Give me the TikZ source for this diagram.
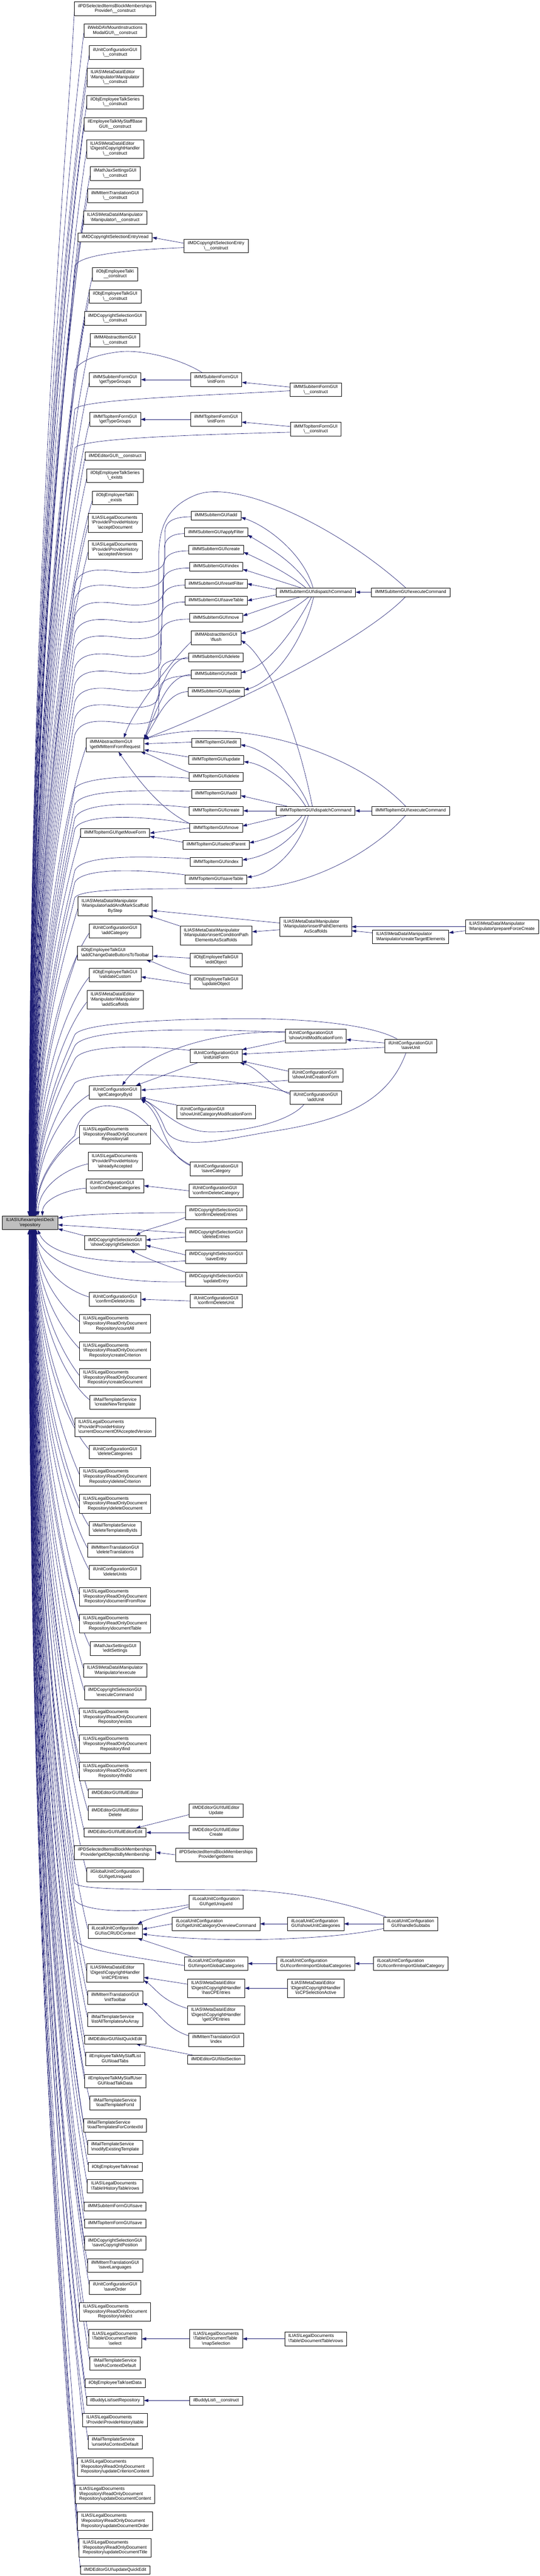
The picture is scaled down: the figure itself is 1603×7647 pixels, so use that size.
\documentclass[tikz,border=0pt]{standalone}
\usepackage{fontspec}
\newfontfamily\doxfont{Liberation Sans}
\usetikzlibrary{arrows.meta,calc}
\definecolor{edgec}{HTML}{191970}
\definecolor{mainfill}{HTML}{BFBFBF}
\pgfdeclarelayer{bg}\pgfsetlayers{bg,main}
\newcommand\bksl{\textbackslash}
\newcommand\La[1]{\begin{tabular}{@{}c@{}}#1\end{tabular}}
\newcommand\Lb[2]{\begin{tabular}{@{}l@{}}#1\\\multicolumn{1}{@{}c@{}}{#2}\end{tabular}}
\newcommand\Lc[3]{\begin{tabular}{@{}l@{}}#1\\#2\\\multicolumn{1}{@{}c@{}}{#3}\end{tabular}}
\newcommand\RODR[1]{\Lc{ILIAS\bksl LegalDocuments}{\bksl Repository\bksl ReadOnlyDocument}{Repository\bksl #1}}
\newcommand\LDPH[1]{\Lc{ILIAS\bksl LegalDocuments}{\bksl Provide\bksl ProvideHistory}{\bksl #1}}
\newcommand\CPH[1]{\Lc{ILIAS\bksl MetaData\bksl Editor}{\bksl Digest\bksl CopyrightHandler}{\bksl #1}}
\newcommand\UCG[1]{\Lb{ilUnitConfigurationGUI}{\bksl #1}}
\newcommand\LUC[1]{\Lb{ilLocalUnitConfiguration}{GUI\bksl #1}}
\newcommand\MTS[1]{\Lb{ilMailTemplateService}{\bksl #1}}
\newcommand\MCS[1]{\Lb{ilMDCopyrightSelectionGUI}{\bksl #1}}
\tikzset{
 nd/.style={draw=black,line width=1pt,fill=white,rectangle,inner xsep=11pt,inner ysep=5.6pt,
   font=\doxfont\fontsize{13.2}{14.7}\selectfont},
 cedge/.style={draw=edgec,line width=1pt,-{Triangle[length=13pt,width=9pt]}}
}
% edge from column-2 node down to the top of the repository node
\newcommand\EdgeT[3]{%
 \pgfmathsetmacro\qqD{3609-#2}\pgfmathsetmacro\qqA{#2+0.12*\qqD}\pgfmathsetmacro\qqB{#2+0.45*\qqD}%
 \draw[cedge] ([yshift=-7pt]#1.west) .. controls (200,\qqA) and (#3,\qqB) .. (#3,0 |- rep.north);}
\newcommand\EdgeB[3]{%
 \pgfmathsetmacro\qqD{#2-3650}\pgfmathsetmacro\qqA{#2-0.12*\qqD}\pgfmathsetmacro\qqB{#2-0.45*\qqD}%
 \draw[cedge] ([yshift=7pt]#1.west) .. controls (200,\qqA) and (#3,\qqB) .. (#3,0 |- rep.south);}
\newcommand\ViaT[3]{%
 \pgfmathsetmacro\qqD{3609-#2}\pgfmathsetmacro\qqA{#2+0.12*\qqD}\pgfmathsetmacro\qqB{#2+0.45*\qqD}%
 \draw[cedge] #1 .. controls (195,\qqA) and (#3,\qqB) .. (#3,0 |- rep.north);}
\newcommand\ViaB[3]{%
 \pgfmathsetmacro\qqD{#2-3650}\pgfmathsetmacro\qqA{#2-0.12*\qqD}\pgfmathsetmacro\qqB{#2-0.45*\qqD}%
 \draw[cedge] #1 .. controls (195,\qqA) and (#3,\qqB) .. (#3,0 |- rep.south);}
\newcommand\WaveT[5]{%
 \pgfmathsetmacro\qwa{#2+15}\pgfmathsetmacro\qwb{#3+4}\pgfmathsetmacro\qwc{#3+25}\pgfmathsetmacro\qwd{#3+50}%
 \pgfmathsetmacro\qwe{#4-45}\pgfmathsetmacro\qwf{#4-10}\pgfmathsetmacro\qwg{#2-30}%
 \pgfmathsetmacro\qwh{#4-8}\pgfmathsetmacro\qwi{#4+5}\pgfmathsetmacro\qwv{#4+33}%
 \pgfmathsetmacro\qqD{3609-\qwv}\pgfmathsetmacro\qqA{\qwv+0.12*\qqD}\pgfmathsetmacro\qqB{\qwv+0.45*\qqD}%
 \draw[cedge] ([yshift=-4pt]#1.west) .. controls (\qwa,\qwb) and (#2,\qwc) .. (#2,\qwd) -- (#2,\qwe) .. controls (#2,\qwf) and (\qwg,#4) .. (400,#4) .. controls (365,#4) and (340,\qwh) .. (300,\qwh) .. controls (258,\qwh) and (232,\qwi) .. (222,\qwv) .. controls (195,\qqA) and (#5,\qqB) .. (#5,0 |- rep.north);}
\begin{document}
\begin{tikzpicture}[x=1pt,y=-1pt]
\useasboundingbox (0,0) rectangle (1603,7647);
% ---------------- nodes ----------------
\node[nd,fill=mainfill] (rep) at (89.5,3630) {\Lb{ILIAS\bksl UI\bksl examples\bksl Deck}{\bksl repository}};
\node[nd] (n1) at (342,26) {\Lb{ilPDSelectedItemsBlockMemberships}{Provider\bksl\_\_construct}};
\node[nd] (n2) at (342,91) {\Lb{ilWebDAVMountInstructions}{ModalGUI\bksl\_\_construct}};
\node[nd] (n3) at (342,156) {\UCG{\_\_construct}};
\node[nd] (n4) at (342,230) {\Lc{ILIAS\bksl MetaData\bksl Editor}{\bksl Manipulator\bksl Manipulator}{\bksl\_\_construct}};
\node[nd] (n5) at (342,303) {\Lb{ilObjEmployeeTalkSeries}{\bksl\_\_construct}};
\node[nd] (n6) at (342,369) {\Lb{ilEmployeeTalkMyStaffBase}{GUI\bksl\_\_construct}};
\node[nd] (n7) at (342,442) {\CPH{\_\_construct}};
\node[nd] (n8) at (342,515) {\Lb{ilMathJaxSettingsGUI}{\bksl\_\_construct}};
\node[nd] (n9) at (342,581) {\Lb{ilMMItemTranslationGUI}{\bksl\_\_construct}};
\node[nd] (n10) at (342,646) {\Lb{ILIAS\bksl MetaData\bksl Manipulator}{\bksl Manipulator\bksl\_\_construct}};
\node[nd] (n11) at (342,705) {\La{ilMDCopyrightSelectionEntry\bksl read}};
\node[nd] (n12) at (642,730) {\Lb{ilMDCopyrightSelectionEntry}{\bksl\_\_construct}};
\node[nd] (n13) at (342,814) {\Lb{ilObjEmployeeTalk\bksl}{\_\_construct}};
\node[nd] (n14) at (342,880) {\Lb{ilObjEmployeeTalkGUI}{\bksl\_\_construct}};
\node[nd] (n15) at (342,945) {\MCS{\_\_construct}};
\node[nd] (n16) at (342,1010) {\Lb{ilMMAbstractItemGUI}{\bksl\_\_construct}};
\node[nd] (n17) at (342,1127) {\Lb{ilMMSubitemFormGUI}{\bksl getTypeGroups}};
\node[nd] (n18) at (642,1127) {\Lb{ilMMSubitemFormGUI}{\bksl initForm}};
\node[nd] (n19) at (938,1157) {\Lb{ilMMSubitemFormGUI}{\bksl\_\_construct}};
\node[nd] (n20) at (342,1245) {\Lb{ilMMTopItemFormGUI}{\bksl getTypeGroups}};
\node[nd] (n21) at (642,1245) {\Lb{ilMMTopItemFormGUI}{\bksl initForm}};
\node[nd] (n22) at (938,1274) {\Lb{ilMMTopItemFormGUI}{\bksl\_\_construct}};
\node[nd] (n23) at (342,1354) {\La{ilMDEditorGUI\bksl\_\_construct}};
\node[nd] (n24) at (342,1412) {\Lb{ilObjEmployeeTalkSeries}{\bksl\_exists}};
\node[nd] (n25) at (342,1478) {\Lb{ilObjEmployeeTalk\bksl}{\_exists}};
\node[nd] (n26) at (342,1552) {\LDPH{acceptDocument}};
\node[nd] (n27) at (342,1632) {\LDPH{acceptedVersion}};
\node[nd] (n28) at (642,1530) {\La{ilMMSubItemGUI\bksl add}};
\node[nd] (n29) at (642,1580) {\La{ilMMSubItemGUI\bksl applyFilter}};
\node[nd] (n30) at (642,1631) {\La{ilMMSubItemGUI\bksl create}};
\node[nd] (n31) at (642,1682) {\La{ilMMSubItemGUI\bksl index}};
\node[nd] (n32) at (642,1733) {\La{ilMMSubItemGUI\bksl resetFilter}};
\node[nd] (n33) at (642,1783) {\La{ilMMSubItemGUI\bksl saveTable}};
\node[nd] (n34) at (642,1834) {\La{ilMMSubItemGUI\bksl move}};
\node[nd] (n35) at (642,1893) {\Lb{ilMMAbstractItemGUI}{\bksl flush}};
\node[nd] (n36) at (938,1758) {\La{ilMMSubItemGUI\bksl dispatchCommand}};
\node[nd] (n37) at (1220,1758) {\La{ilMMSubItemGUI\bksl executeCommand}};
\node[nd] (n38) at (642,1951) {\La{ilMMSubItemGUI\bksl delete}};
\node[nd] (n39) at (642,2002) {\La{ilMMSubItemGUI\bksl edit}};
\node[nd] (n40) at (642,2053) {\La{ilMMSubItemGUI\bksl update}};
\node[nd] (n41) at (342,2211) {\Lb{ilMMAbstractItemGUI}{\bksl getMMItemFromRequest}};
\node[nd] (n42) at (642,2205) {\La{ilMMTopItemGUI\bksl edit}};
\node[nd] (n43) at (642,2255) {\La{ilMMTopItemGUI\bksl update}};
\node[nd] (n44) at (642,2306) {\La{ilMMTopItemGUI\bksl delete}};
\node[nd] (n45) at (642,2356) {\La{ilMMTopItemGUI\bksl add}};
\node[nd] (n46) at (642,2407) {\La{ilMMTopItemGUI\bksl create}};
\node[nd] (n47) at (642,2458) {\La{ilMMTopItemGUI\bksl move}};
\node[nd] (n48) at (342,2473) {\La{ilMMTopItemGUI\bksl getMoveForm}};
\node[nd] (n49) at (642,2508) {\La{ilMMTopItemGUI\bksl selectParent}};
\node[nd] (n50) at (642,2559) {\La{ilMMTopItemGUI\bksl index}};
\node[nd] (n51) at (938,2407) {\La{ilMMTopItemGUI\bksl dispatchCommand}};
\node[nd] (n52) at (1220,2407) {\La{ilMMTopItemGUI\bksl executeCommand}};
\node[nd] (n53) at (642,2610) {\La{ilMMTopItemGUI\bksl saveTable}};
\node[nd] (n54) at (342,2690) {\Lc{ILIAS\bksl MetaData\bksl Manipulator}{\bksl Manipulator\bksl addAndMarkScaffold}{ByStep}};
\node[nd] (n55) at (342,2763) {\UCG{addCategory}};
\node[nd] (n56) at (342,2829) {\Lb{ilObjEmployeeTalkGUI}{\bksl addChangeDateButtonsToToolbar}};
\node[nd] (n57) at (342,2894) {\Lb{ilObjEmployeeTalkGUI}{\bksl validateCustom}};
\node[nd] (n58) at (342,2968) {\Lc{ILIAS\bksl MetaData\bksl Editor}{\bksl Manipulator\bksl Manipulator}{\bksl addScaffolds}};
\node[nd] (n59) at (642,2777) {\Lc{ILIAS\bksl MetaData\bksl Manipulator}{\bksl Manipulator\bksl insertConditionPath}{ElementsAsScaffolds}};
\node[nd] (n60) at (642,2850) {\Lb{ilObjEmployeeTalkGUI}{\bksl editObject}};
\node[nd] (n61) at (642,2915) {\Lb{ilObjEmployeeTalkGUI}{\bksl updateObject}};
\node[nd] (n62) at (938,2751) {\Lc{ILIAS\bksl MetaData\bksl Manipulator}{\bksl Manipulator\bksl insertPathElements}{AsScaffolds}};
\node[nd] (n63) at (1220,2781) {\Lb{ILIAS\bksl MetaData\bksl Manipulator}{\bksl Manipulator\bksl createTargetElements}};
\node[nd] (n64) at (1491,2751) {\Lb{ILIAS\bksl MetaData\bksl Manipulator}{\bksl Manipulator\bksl prepareForceCreate}};
\node[nd] (n65) at (938,3075) {\UCG{showUnitModificationForm}};
\node[nd] (n66) at (1220,3105) {\UCG{saveUnit}};
\node[nd] (n67) at (642,3134) {\UCG{initUnitForm}};
\node[nd] (n68) at (938,3192) {\UCG{showUnitCreationForm}};
\node[nd] (n69) at (342,3243) {\UCG{getCategoryById}};
\node[nd] (n70) at (938,3258) {\UCG{addUnit}};
\node[nd] (n71) at (642,3301) {\UCG{showUnitCategoryModificationForm}};
\node[nd] (n72) at (342,3368) {\RODR{all}};
\node[nd] (n73) at (342,3448) {\LDPH{alreadyAccepted}};
\node[nd] (n74) at (642,3470) {\UCG{saveCategory}};
\node[nd] (n75) at (342,3520) {\UCG{confirmDeleteCategories}};
\node[nd] (n76) at (642,3535) {\UCG{confirmDeleteCategory}};
\node[nd] (n77) at (642,3600) {\MCS{confirmDeleteEntries}};
\node[nd] (n79) at (642,3666) {\MCS{deleteEntries}};
\node[nd] (n80) at (342,3689) {\MCS{showCopyrightSelection}};
\node[nd] (n81) at (642,3731) {\MCS{saveEntry}};
\node[nd] (n82) at (642,3797) {\MCS{updateEntry}};
\node[nd] (n83) at (342,3857) {\UCG{confirmDeleteUnits}};
\node[nd] (n84) at (642,3862) {\UCG{confirmDeleteUnit}};
\node[nd] (n85) at (342,3930) {\RODR{countAll}};
\node[nd] (n86) at (342,4010) {\RODR{createCriterion}};
\node[nd] (n87) at (342,4090) {\RODR{createDocument}};
\node[nd] (n88) at (342,4163) {\MTS{createNewTemplate}};
\node[nd] (n89) at (342,4237) {\LDPH{currentDocumentOfAcceptedVersion}};
\node[nd] (n90) at (342,4310) {\UCG{deleteCategories}};
\node[nd] (n91) at (342,4384) {\RODR{deleteCriterion}};
\node[nd] (n92) at (342,4464) {\RODR{deleteDocument}};
\node[nd] (n93) at (342,4537) {\MTS{deleteTemplatesByIds}};
\node[nd] (n94) at (342,4602) {\Lb{ilMMItemTranslationGUI}{\bksl deleteTranslations}};
\node[nd] (n95) at (342,4667) {\UCG{deleteUnits}};
\node[nd] (n96) at (342,4740) {\RODR{documentFromRow}};
\node[nd] (n97) at (342,4820) {\RODR{documentTable}};
\node[nd] (n98) at (342,4894) {\Lb{ilMathJaxSettingsGUI}{\bksl editSettings}};
\node[nd] (n99) at (342,4959) {\Lb{ILIAS\bksl MetaData\bksl Manipulator}{\bksl Manipulator\bksl execute}};
\node[nd] (n100) at (342,5025) {\MCS{executeCommand}};
\node[nd] (n101) at (342,5098) {\RODR{exists}};
\node[nd] (n102) at (342,5178) {\RODR{find}};
\node[nd] (n103) at (342,5258) {\RODR{findId}};
\node[nd] (n104) at (342,5323) {\La{ilMDEditorGUI\bksl fullEditor}};
\node[nd] (n105) at (342,5382) {\Lb{ilMDEditorGUI\bksl fullEditor}{Delete}};
\node[nd] (n106) at (642,5375) {\Lb{ilMDEditorGUI\bksl fullEditor}{Update}};
\node[nd] (n107) at (342,5440) {\La{ilMDEditorGUI\bksl fullEditorEdit}};
\node[nd] (n108) at (642,5440) {\Lb{ilMDEditorGUI\bksl fullEditor}{Create}};
\node[nd] (n109) at (342,5499) {\Lb{ilPDSelectedItemsBlockMemberships}{Provider\bksl getObjectsByMembership}};
\node[nd] (n110) at (642,5506) {\Lb{ilPDSelectedItemsBlockMemberships}{Provider\bksl getItems}};
\node[nd] (n111) at (342,5565) {\Lb{ilGlobalUnitConfiguration}{GUI\bksl getUniqueId}};
\node[nd] (n112) at (642,5646) {\LUC{getUniqueId}};
\node[nd] (n113) at (642,5711) {\LUC{getUnitCategoryOverviewCommand}};
\node[nd] (n114) at (938,5711) {\LUC{showUnitCategories}};
\node[nd] (n115) at (1220,5711) {\LUC{handleSubtabs}};
\node[nd] (n116) at (342,5733) {\LUC{isCRUDContext}};
\node[nd] (n117) at (642,5829) {\LUC{importGlobalCategories}};
\node[nd] (n118) at (938,5829) {\LUC{confirmImportGlobalCategories}};
\node[nd] (n119) at (1220,5829) {\LUC{confirmImportGlobalCategory}};
\node[nd] (n120) at (342,5857) {\CPH{initCPEntries}};
\node[nd] (n121) at (642,5902) {\CPH{hasCPEntries}};
\node[nd] (n122) at (938,5902) {\CPH{isCPSelectionActive}};
\node[nd] (n123) at (642,5982) {\CPH{getCPEntries}};
\node[nd] (n124) at (342,5930) {\Lb{ilMMItemTranslationGUI}{\bksl initToolbar}};
\node[nd] (n125) at (642,6055) {\Lb{ilMMItemTranslationGUI}{\bksl index}};
\node[nd] (n126) at (342,5995) {\MTS{listAllTemplatesAsArray}};
\node[nd] (n127) at (342,6054) {\La{ilMDEditorGUI\bksl listQuickEdit}};
\node[nd] (n128) at (642,6114) {\La{ilMDEditorGUI\bksl listSection}};
\node[nd] (n129) at (342,6112) {\Lb{ilEmployeeTalkMyStaffList}{GUI\bksl loadTabs}};
\node[nd] (n130) at (342,6178) {\Lb{ilEmployeeTalkMyStaffUser}{GUI\bksl loadTalkData}};
\node[nd] (n131) at (342,6243) {\MTS{loadTemplateForId}};
\node[nd] (n132) at (342,6309) {\MTS{loadTemplatesForContextId}};
\node[nd] (n133) at (342,6374) {\MTS{modifyExistingTemplate}};
\node[nd] (n134) at (342,6433) {\La{ilObjEmployeeTalk\bksl read}};
\node[nd] (n135) at (342,6490) {\Lb{ILIAS\bksl LegalDocuments}{\bksl Table\bksl HistoryTable\bksl rows}};
\node[nd] (n136) at (342,6550) {\La{ilMMSubitemFormGUI\bksl save}};
\node[nd] (n137) at (342,6600) {\La{ilMMTopItemFormGUI\bksl save}};
\node[nd] (n138) at (342,6659) {\MCS{saveCopyrightPosition}};
\node[nd] (n139) at (342,6725) {\Lb{ilMMItemTranslationGUI}{\bksl saveLanguages}};
\node[nd] (n140) at (342,6790) {\UCG{saveOrder}};
\node[nd] (n141) at (342,6863) {\RODR{select}};
\node[nd] (n142) at (342,6943) {\Lc{ILIAS\bksl LegalDocuments}{\bksl Table\bksl DocumentTable}{\bksl select}};
\node[nd] (n143) at (642,6943) {\Lc{ILIAS\bksl LegalDocuments}{\bksl Table\bksl DocumentTable}{\bksl mapSelection}};
\node[nd] (n144) at (938,6943) {\Lb{ILIAS\bksl LegalDocuments}{\bksl Table\bksl DocumentTable\bksl rows}};
\node[nd] (n145) at (342,7016) {\MTS{setAsContextDefault}};
\node[nd] (n146) at (342,7075) {\La{ilObjEmployeeTalk\bksl setData}};
\node[nd] (n147) at (342,7126) {\La{ilBuddyList\bksl setRepository}};
\node[nd] (n148) at (642,7126) {\La{ilBuddyList\bksl\_\_construct}};
\node[nd] (n149) at (342,7184) {\Lb{ILIAS\bksl LegalDocuments}{\bksl Provide\bksl ProvideHistory\bksl table}};
\node[nd] (n150) at (342,7250) {\MTS{unsetAsContextDefault}};
\node[nd] (n151) at (342,7323) {\RODR{updateCriterionContent}};
\node[nd] (n152) at (342,7404) {\RODR{updateDocumentContent}};
\node[nd] (n153) at (342,7484) {\RODR{updateDocumentOrder}};
\node[nd] (n154) at (342,7563) {\RODR{updateDocumentTitle}};
\node[nd] (n155) at (342,7629) {\La{ilMDEditorGUI\bksl updateQuickEdit}};
% ---------------- edges ----------------
\begin{pgfonlayer}{bg}
% callers above the repository node
\EdgeT{n1}{26}{86}
\EdgeT{n2}{91}{86.4}
\EdgeT{n3}{156}{86.8}
\EdgeT{n4}{230}{87.1}
\EdgeT{n5}{303}{87.5}
\EdgeT{n6}{369}{87.9}
\EdgeT{n7}{442}{88.3}
\EdgeT{n8}{515}{88.7}
\EdgeT{n9}{581}{89}
\EdgeT{n10}{646}{89.4}
\EdgeT{n11}{705}{89.8}
\ViaT{([yshift=-5pt]n12.west) .. controls (420,740) and (236,752) .. (222,790)}{790}{90.2}
\EdgeT{n13}{814}{90.6}
\EdgeT{n14}{880}{90.9}
\EdgeT{n15}{945}{91.3}
\EdgeT{n16}{1010}{91.7}
\ViaT{([xshift=-41pt]n18.north) .. controls (530,1062) and (420,1038) .. (358,1044) .. controls (300,1050) and (236,1068) .. (222,1100)}{1100}{92.1}
\EdgeT{n17}{1127}{92.5}
\ViaT{([yshift=-3pt]n19.west) .. controls (600,1175) and (240,1185) .. (222,1215)}{1215}{92.8}
\EdgeT{n20}{1245}{93.2}
\ViaT{([yshift=-9pt]n22.west) .. controls (600,1290) and (240,1300) .. (222,1330)}{1330}{93.6}
\EdgeT{n23}{1354}{94}
\EdgeT{n24}{1412}{94.4}
\EdgeT{n25}{1478}{94.7}
\EdgeT{n26}{1552}{95.1}
\EdgeT{n27}{1632}{95.5}
\WaveT{n28}{490}{1530}{1700}{95.9}
\WaveT{n29}{488}{1580}{1745}{96.3}
\WaveT{n30}{486}{1631}{1796}{96.6}
\WaveT{n31}{484}{1682}{1847}{97}
\WaveT{n32}{482}{1733}{1896}{97.4}
\WaveT{n33}{480}{1783}{1949}{97.8}
\WaveT{n34}{478}{1834}{2000}{98.2}
\WaveT{n38}{476}{1951}{2051}{98.5}
\WaveT{n39}{474}{2002}{2100}{98.9}
\ViaT{([xshift=-15pt]n37.north) .. controls (1000,1560) and (700,1420) .. (580,1470) .. controls (500,1503) and (472,1560) .. (472,1650) -- (472,2104) .. controls (472,2139) and (442,2149) .. (400,2149) .. controls (365,2149) and (340,2141) .. (300,2141) .. controls (258,2141) and (232,2154) .. (222,2182)}{2182}{99.3}
\EdgeT{n41}{2211}{99.7}
\ViaT{([yshift=-4pt]n44.west) .. controls (420,2300) and (250,2305) .. (222,2340)}{2340}{100.1}
\ViaT{([yshift=7pt]n45.west) .. controls (400,2345) and (240,2345) .. (222,2389)}{2389}{100.4}
\ViaT{([yshift=10pt]n46.west) .. controls (400,2380) and (240,2382) .. (222,2430)}{2430}{100.8}
\ViaT{(n47.north west) .. controls (420,2420) and (240,2415) .. (222,2462)}{2462}{101.2}
\EdgeT{n48}{2473}{101.6}
\ViaT{([yshift=10pt]n50.west) .. controls (400,2540) and (240,2540) .. (222,2585)}{2585}{102}
\ViaT{([yshift=13pt]n53.west) .. controls (400,2578) and (240,2578) .. (222,2620)}{2620}{102.3}
\ViaT{([xshift=-15pt]n52.south) .. controls (1100,2540) and (900,2636) .. (740,2637) .. controls (450,2639) and (240,2635) .. (222,2665)}{2665}{102.7}
\EdgeT{n54}{2690}{103.1}
\EdgeT{n55}{2763}{103.5}
\EdgeT{n56}{2829}{103.9}
\EdgeT{n57}{2894}{104.2}
\EdgeT{n58}{2968}{104.6}
\ViaT{([xshift=-40pt]n66.north) .. controls (1100,3040) and (900,3022) .. (700,3024) .. controls (450,3026) and (240,3040) .. (222,3072)}{3072}{105}
\ViaT{([yshift=10pt]n65.west) .. controls (600,3052) and (250,3050) .. (222,3105)}{3105}{105.4}
\ViaT{([yshift=16pt]n67.west) .. controls (400,3100) and (240,3105) .. (222,3145)}{3145}{105.8}
\ViaT{([yshift=14pt]n70.west) .. controls (650,3190) and (280,3170) .. (222,3215)}{3215}{106.1}
\EdgeT{n69}{3243}{106.5}
\ViaT{([yshift=12pt]n74.west) .. controls (460,3400) and (450,3300) .. (337,3284) .. controls (270,3274) and (230,3320) .. (222,3371)}{3371}{106.9}
\EdgeT{n72}{3368}{109}
\EdgeT{n73}{3448}{113}
\EdgeT{n75}{3520}{126}
% short edges, upper part
\draw[cedge] ([yshift=8pt]n12.west) -- (n11.east);
\draw[cedge] (n18.west) -- (n17.east);
\draw[cedge] ([yshift=8pt]n19.west) -- ([yshift=-8pt]n18.east);
\draw[cedge] (n21.west) -- (n20.east);
\draw[cedge] ([yshift=8pt]n22.west) -- ([yshift=-8pt]n21.east);
\draw[cedge] ([xshift=-8pt]n36.north) .. controls (900,1640) and (790,1560) .. ([yshift=-6pt]n28.east);
\draw[cedge] ([xshift=-16pt]n36.north) .. controls (880,1670) and (790,1620) .. ([yshift=-8pt]n29.east);
\draw[cedge] ([xshift=-30pt]n36.north) .. controls (855,1700) and (780,1665) .. ([yshift=-8pt]n30.east);
\draw[cedge] ([xshift=-45pt]n36.north) .. controls (830,1725) and (770,1705) .. ([yshift=-8pt]n31.east);
\draw[cedge] ([yshift=8pt]n36.west) -- (n32.east);
\draw[cedge] ([yshift=-8pt]n36.west) -- (n33.east);
\draw[cedge] ([xshift=-45pt]n36.south) .. controls (830,1790) and (770,1812) .. ([yshift=6pt]n34.east);
\draw[cedge] ([xshift=-20pt]n36.south) .. controls (870,1810) and (790,1862) .. ([yshift=12pt]n35.east);
\draw[cedge] ([xshift=-12pt]n36.south) .. controls (880,1860) and (800,1975) .. ([yshift=5pt]n39.east);
\draw[cedge] ([xshift=-6pt]n36.south) .. controls (900,1910) and (810,2025) .. ([yshift=5pt]n40.east);
\draw[cedge] (n37.west) -- (n36.east);
\draw[cedge] ([xshift=-15pt]n37.south) .. controls (1080,1900) and (720,2080) .. ([yshift=-4pt]n41.north east);
\draw[cedge] ([yshift=-12pt]n35.west) .. controls (520,1950) and (400,2100) .. ([xshift=26pt]n41.north);
\draw[cedge] (n38.west) .. controls (490,1955) and (468,2080) .. ([yshift=-4pt]n41.north east);
\draw[cedge] (n39.west) .. controls (495,2006) and (470,2100) .. ([yshift=-4pt]n41.north east);
\draw[cedge] (n40.west) .. controls (495,2056) and (470,2130) .. ([yshift=-4pt]n41.north east);
\draw[cedge] ([xshift=-10pt]n51.north) .. controls (880,2150) and (790,1950) .. ([yshift=-8pt]n35.east);
\draw[cedge] ([xshift=-20pt]n51.north) .. controls (880,2300) and (790,2225) .. ([yshift=-6pt]n42.east);
\draw[cedge] ([xshift=-30pt]n51.north) .. controls (870,2330) and (790,2270) .. ([yshift=-6pt]n43.east);
\draw[cedge] ([xshift=-85pt]n51.north) -- ([yshift=-6pt]n45.east);
\draw[cedge] (n51.west) -- (n46.east);
\draw[cedge] ([xshift=-85pt]n51.south) -- ([yshift=6pt]n47.east);
\draw[cedge] ([xshift=-40pt]n51.south) .. controls (870,2460) and (800,2490) .. ([yshift=6pt]n49.east);
\draw[cedge] ([xshift=-30pt]n51.south) .. controls (880,2490) and (800,2540) .. ([yshift=6pt]n50.east);
\draw[cedge] ([xshift=-22pt]n51.south) .. controls (890,2520) and (810,2595) .. ([yshift=6pt]n53.east);
\draw[cedge] (n52.west) -- (n51.east);
\draw[cedge] ([xshift=-15pt]n52.north) .. controls (1050,2230) and (700,2120) .. ([yshift=-4pt]n41.north east);
\draw[cedge] ([yshift=2pt]n42.west) -- ([yshift=3pt]n41.east);
\draw[cedge] ([yshift=8pt]n43.west) -- ([yshift=-15pt]n41.east);
\draw[cedge] (n44.north west) .. controls (500,2270) and (460,2245) .. ([xshift=-10pt]n41.south east);
\draw[cedge] (n47.north west) .. controls (470,2400) and (400,2300) .. ([xshift=10pt]n41.south);
\draw[cedge] (n47.west) -- (n48.east);
\draw[cedge] ([yshift=8pt]n49.west) -- ([yshift=-10pt]n48.east);
\draw[cedge] ([yshift=11pt]n62.west) -- ([yshift=-13pt]n54.east);
\draw[cedge] (n59.north west) -- ([xshift=-12pt]n54.south east);
\draw[cedge] ([yshift=-9pt]n62.west) -- ([yshift=11pt]n59.east);
\draw[cedge] ([yshift=12pt]n63.west) -- ([yshift=-12pt]n62.east);
\draw[cedge] (n64.west) -- (n62.east);
\draw[cedge] ([yshift=-12pt]n64.west) -- ([yshift=12pt]n63.east);
\draw[cedge] ([yshift=6pt]n60.west) -- ([yshift=-9pt]n56.east);
\draw[cedge] (n61.north west) .. controls (500,2880) and (470,2860) .. ([xshift=-20pt]n56.south east);
\draw[cedge] ([yshift=-6pt]n61.west) -- ([yshift=-6pt]n57.east);
\draw[cedge] ([yshift=9pt]n66.west) -- ([yshift=-11pt]n65.east);
\draw[cedge] ([yshift=-4pt]n66.west) -- ([yshift=5pt]n67.east);
\draw[cedge] ([yshift=-14pt]n65.west) -- ([yshift=18pt]n67.east);
\draw[cedge] ([yshift=12pt]n65.west) .. controls (600,3060) and (420,3140) .. ([xshift=21pt]n69.north);
\draw[cedge] ([xshift=-55pt]n67.south) -- ([xshift=62pt]n69.north);
\draw[cedge] ([yshift=12pt]n68.west) -- ([yshift=-16pt]n67.east);
\draw[cedge] ([yshift=-15pt]n68.west) -- ([yshift=7pt]n69.east);
\draw[cedge] ([yshift=10pt]n70.west) .. controls (800,3225) and (770,3170) .. ([xshift=-6pt]n67.south east);
\draw[cedge] ([xshift=-35pt]n70.south) .. controls (860,3330) and (720,3362) .. (620,3360) .. controls (530,3358) and (480,3290) .. ([yshift=3pt]n69.south east);
\draw[cedge] ([xshift=-14pt]n66.south) .. controls (1150,3280) and (1000,3330) .. (800,3360) .. controls (650,3385) and (520,3420) .. (490,3350) .. controls (470,3300) and (450,3275) .. (n69.south east);
\draw[cedge] (n71.north west) -- ([yshift=6pt]n69.south east);
\draw[cedge] ([yshift=10pt]n74.west) .. controls (480,3420) and (490,3320) .. (n69.south east);
\draw[cedge] (n76.west) -- (n75.east);
% right side and near callers
\draw[cedge] (n77.west) .. controls (400,3600) and (250,3603) .. ([yshift=14pt]rep.east);
\draw[cedge] ([yshift=-14pt]n77.west) .. controls (500,3635) and (430,3650) .. ([xshift=62pt]n80.north);
\draw[cedge] ([yshift=6pt]n79.west) -- ([yshift=-6pt]rep.east);
\draw[cedge] ([yshift=-6pt]n79.west) -- ([yshift=8pt]n80.east);
\draw[cedge] (n80.north west) -- ([yshift=3pt]rep.south east);
\draw[cedge] ([yshift=6pt]n81.west) -- ([yshift=-8pt]n80.east);
\draw[cedge] ([yshift=-12pt]n81.west) .. controls (350,3755) and (150,3740) .. (112,0 |- rep.south);
\draw[cedge] (n82.north west) .. controls (500,3760) and (420,3730) .. ([xshift=46pt]n80.south);
\draw[cedge] ([yshift=-8pt]n82.west) .. controls (300,3810) and (130,3760) .. (102,0 |- rep.south);
\draw[cedge] (n84.west) -- (n83.east);
% callers below the repository node
\EdgeB{n83}{3857}{108}
\EdgeB{n85}{3930}{107.6}
\EdgeB{n86}{4010}{107.2}
\EdgeB{n87}{4090}{106.8}
\EdgeB{n88}{4163}{106.4}
\EdgeB{n89}{4237}{106}
\EdgeB{n90}{4310}{105.7}
\EdgeB{n91}{4384}{105.3}
\EdgeB{n92}{4464}{104.9}
\EdgeB{n93}{4537}{104.5}
\EdgeB{n94}{4602}{104.1}
\EdgeB{n95}{4667}{103.7}
\EdgeB{n96}{4740}{103.3}
\EdgeB{n97}{4820}{102.9}
\EdgeB{n98}{4894}{102.5}
\EdgeB{n99}{4959}{102.1}
\EdgeB{n100}{5025}{101.8}
\EdgeB{n101}{5098}{101.4}
\EdgeB{n102}{5178}{101}
\EdgeB{n103}{5258}{100.6}
\EdgeB{n104}{5323}{100.2}
\EdgeB{n105}{5382}{99.8}
\EdgeB{n107}{5440}{99.4}
\EdgeB{n109}{5499}{99}
\EdgeB{n111}{5565}{98.6}
\ViaB{([xshift=8pt]n115.north west) .. controls (1000,5640) and (850,5612) .. (700,5610) .. controls (420,5608) and (240,5612) .. (222,5590)}{5590}{98.2}
\ViaB{([yshift=-8pt]n112.west) .. controls (430,5680) and (250,5680) .. (222,5640)}{5640}{97.9}
\EdgeB{n116}{5733}{97.5}
\ViaB{([yshift=-6pt]n117.west) .. controls (380,5805) and (240,5790) .. (222,5758)}{5758}{97.1}
\EdgeB{n120}{5857}{96.7}
\EdgeB{n124}{5930}{96.3}
\EdgeB{n126}{5995}{95.9}
\EdgeB{n127}{6054}{95.5}
\EdgeB{n129}{6112}{95.1}
\EdgeB{n130}{6178}{94.7}
\EdgeB{n131}{6243}{94.3}
\EdgeB{n132}{6309}{94}
\EdgeB{n133}{6374}{93.6}
\EdgeB{n134}{6433}{93.2}
\EdgeB{n135}{6490}{92.8}
\EdgeB{n136}{6550}{92.4}
\EdgeB{n137}{6600}{92}
\EdgeB{n138}{6659}{91.6}
\EdgeB{n139}{6725}{91.2}
\EdgeB{n140}{6790}{90.8}
\EdgeB{n141}{6863}{90.4}
\EdgeB{n142}{6943}{90.1}
\EdgeB{n145}{7016}{89.7}
\EdgeB{n146}{7075}{89.3}
\EdgeB{n147}{7126}{88.9}
\EdgeB{n149}{7184}{88.5}
\EdgeB{n150}{7250}{88.1}
\EdgeB{n151}{7323}{87.7}
\EdgeB{n152}{7404}{87.3}
\EdgeB{n153}{7484}{86.9}
\EdgeB{n154}{7563}{86.5}
\EdgeB{n155}{7629}{86.1}
% short edges, lower part
\draw[cedge] ([yshift=-12pt]n106.west) -- ([xshift=62pt]n107.north);
\draw[cedge] (n108.west) -- (n107.east);
\draw[cedge] (n110.west) -- (n109.east);
\draw[cedge] ([yshift=-14pt]n112.west) .. controls (500,5680) and (440,5695) .. ([xshift=67pt]n116.north);
\draw[cedge] (n113.west) -- ([yshift=6pt]n116.east);
\draw[cedge] (n114.west) -- (n113.east);
\draw[cedge] (n115.west) -- (n114.east);
\draw[cedge] ([yshift=-14pt]n115.west) .. controls (950,5765) and (600,5765) .. ([yshift=-8pt]n116.east);
\draw[cedge] ([xshift=-70pt]n117.north) -- ([xshift=67pt]n116.south);
\draw[cedge] (n118.west) -- (n117.east);
\draw[cedge] (n119.west) -- (n118.east);
\draw[cedge] ([yshift=12pt]n121.west) -- ([yshift=-13pt]n120.east);
\draw[cedge] (n122.west) -- (n121.east);
\draw[cedge] ([yshift=20pt]n123.west) .. controls (480,5940) and (460,5900) .. ([yshift=-22pt]n120.east);
\draw[cedge] ([yshift=12pt]n125.west) .. controls (490,6020) and (470,5970) .. ([yshift=-15pt]n124.east);
\draw[cedge] ([xshift=-70pt]n128.north) -- ([xshift=62pt]n127.south);
\draw[cedge] (n143.west) -- (n142.east);
\draw[cedge] (n144.west) -- (n143.east);
\draw[cedge] (n148.west) -- (n147.east);
\end{pgfonlayer}
\end{tikzpicture}
\end{document}
